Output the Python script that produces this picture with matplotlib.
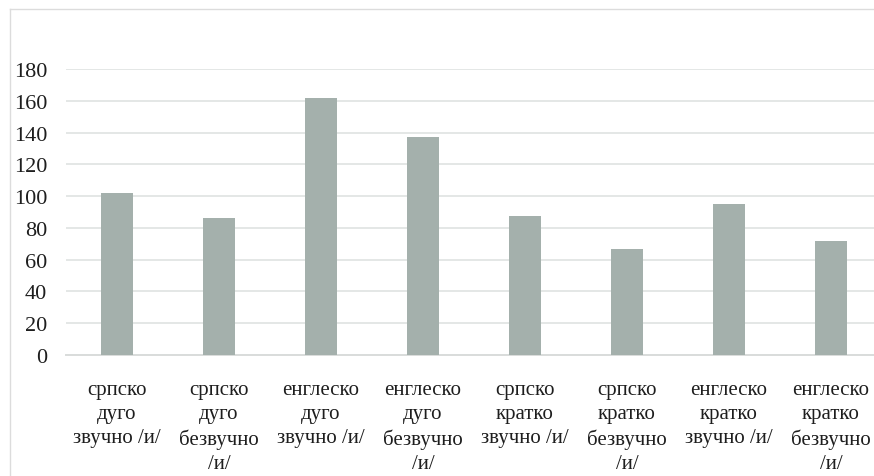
import matplotlib.pyplot as plt
from matplotlib.lines import Line2D

# bar categories (multi-line labels) and measured values
categories = [
    'српско\nдуго\nзвучно /и/',
    'српско\nдуго\nбезвучно\n/и/',
    'енглеско\nдуго\nзвучно /и/',
    'енглеско\nдуго\nбезвучно\n/и/',
    'српско\nкратко\nзвучно /и/',
    'српско\nкратко\nбезвучно\n/и/',
    'енглеско\nкратко\nзвучно /и/',
    'енглеско\nкратко\nбезвучно\n/и/',
]
values = [102, 86.5, 161.5, 137.5, 87.5, 67, 95, 72]
y_ticks = [0, 20, 40, 60, 80, 100, 120, 140, 160, 180]

plt.rcParams['font.family'] = 'serif'
plt.rcParams['font.serif'] = ['Liberation Serif', 'FreeSerif', 'DejaVu Serif']

W, H = 874, 477
fig = plt.figure(figsize=(W / 100, H / 100), dpi=100)
ax = fig.add_axes([66 / W, 1 - 356 / H, 816 / W, 286 / H])

x = range(len(values))
ax.bar(x, values, width=0.32, color='#a4b0ac', zorder=3)

ax.set_ylim(0, 180)
ax.set_xlim(-0.5, len(values) - 0.5)
ax.set_yticks(y_ticks)
ax.set_yticklabels([str(t) for t in y_ticks], fontsize=16, color='#1e1e1e')
ax.set_xticks(list(x))
ax.set_xticklabels(categories, fontsize=15, color='#1e1e1e',
                   linespacing=1.36, multialignment='center', va='top')

ax.grid(axis='y', color='#e4e7e6', linewidth=1.4, zorder=0)
for side in ['top', 'right', 'left']:
    ax.spines[side].set_visible(False)
ax.spines['bottom'].set_color('#d9dcdb')
ax.spines['bottom'].set_linewidth(1.4)
ax.tick_params(axis='both', length=0)
ax.tick_params(axis='y', pad=13.5)
ax.tick_params(axis='x', pad=18)

# outer chart border
fig.add_artist(Line2D([9.5 / W, 9.5 / W], [0, 1 - 10 / H], color='#dcdcdc', lw=1.0))
fig.add_artist(Line2D([9.5 / W, 1], [1 - 10 / H, 1 - 10 / H], color='#dcdcdc', lw=1.0))

fig.savefig('out.png', dpi=100)
